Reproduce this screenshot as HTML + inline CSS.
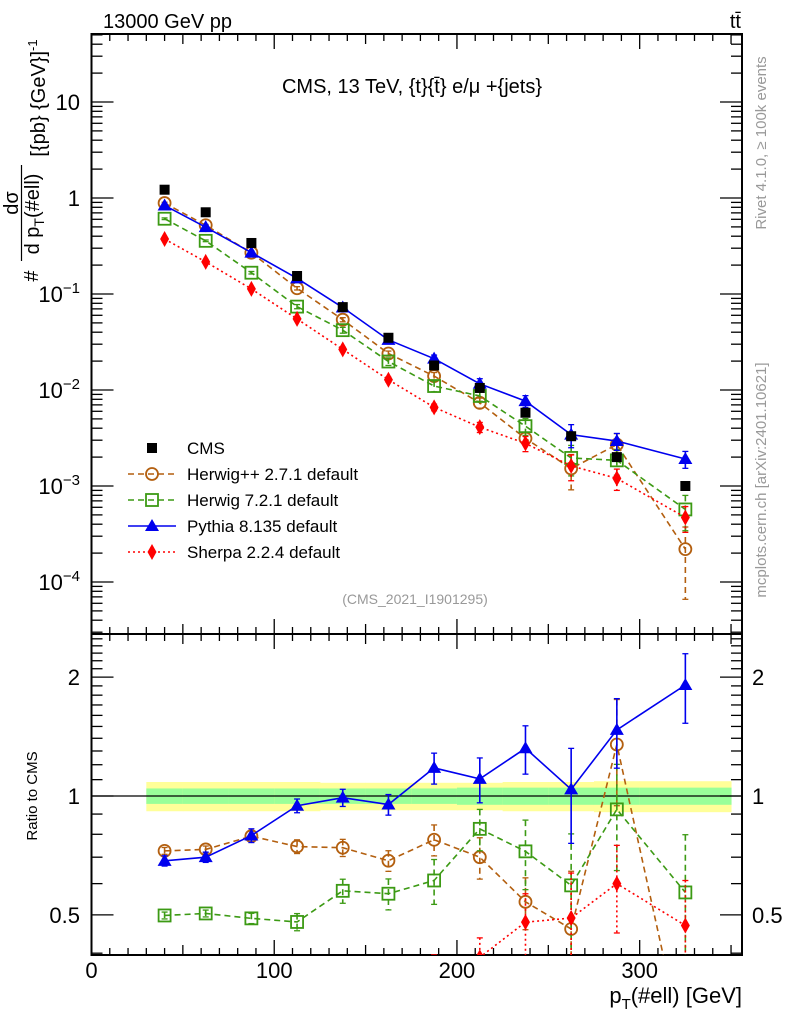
<!DOCTYPE html>
<html><head><meta charset="utf-8"><style>
html,body{margin:0;padding:0;background:#fff;overflow:hidden;width:786px;height:1024px;}
svg{display:block;font-family:"Liberation Sans",sans-serif;}
</style></head><body>
<svg id="chart" width="786" height="1024" viewBox="0 0 786 1024" xmlns="http://www.w3.org/2000/svg" overflow="hidden">
<defs>
<clipPath id="clipMain"><rect x="91.5" y="34" width="650.5" height="600"/></clipPath>
<clipPath id="clipRat"><rect x="91.5" y="634" width="650.5" height="321"/></clipPath>
</defs>
<text x="103" y="28" font-size="20">13000 GeV pp</text>
<text x="741" y="28" font-size="20" text-anchor="end">tt̄</text>
<text x="412" y="93" font-size="20" text-anchor="middle">CMS, 13 TeV, {t}{t̄} e/μ +{jets}</text>
<text x="415" y="604" font-size="14" fill="#999" text-anchor="middle">(CMS_2021_I1901295)</text>
<text transform="translate(766,143) rotate(-90)" font-size="15" fill="#999" text-anchor="middle">Rivet 4.1.0, ≥ 100k events</text>
<text transform="translate(766,480) rotate(-90)" font-size="15" fill="#999" text-anchor="middle">mcplots.cern.ch [arXiv:2401.10621]</text>
<g>
<text transform="translate(38,276) rotate(-90)" font-size="20" text-anchor="middle">#</text>
<text transform="translate(18,203) rotate(-90)" font-size="20" text-anchor="middle">dσ</text>
<line x1="21.5" y1="165" x2="21.5" y2="261" stroke="#000" stroke-width="1.2"/>
<text transform="translate(39,214) rotate(-90)" font-size="20" text-anchor="middle">d p<tspan font-size="14" dy="5">T</tspan><tspan dy="-5">(#ell)</tspan></text>
<text transform="translate(45,98) rotate(-90)" font-size="20" text-anchor="middle">[{pb} {GeV}]<tspan font-size="13" dy="-8">-1</tspan></text>
</g>
<text transform="translate(37,796) rotate(-90)" font-size="15" text-anchor="middle">Ratio to CMS</text>
<text x="742" y="1003" font-size="22" text-anchor="end">p<tspan font-size="15" dy="6">T</tspan><tspan dy="-6">(#ell) [GeV]</tspan></text>
<g id="bands" clip-path="url(#clipRat)"></g>
<g id="axes"></g>
<g id="mainMarks" clip-path="url(#clipMain)"></g>
<g id="ratMarks" clip-path="url(#clipRat)"></g>
<g id="legend"></g>
</svg>
<script>
const binEdges = [30,50,75,100,125,150,175,200,225,250,275,300,350];
const binCenters = [40,62.5,87.5,112.5,137.5,162.5,187.5,212.5,237.5,262.5,287.5,325];
const cmsValues = [1.22,0.71,0.34,0.154,0.073,0.035,0.018,0.0105,0.0058,0.0033,0.0020,0.00100];
const cmsStatRel = [0.045,0.045,0.045,0.045,0.045,0.045,0.045,0.05,0.05,0.05,0.05,0.05];
const cmsTotRel = [0.085,0.085,0.085,0.085,0.08,0.08,0.08,0.08,0.085,0.085,0.09,0.09];
const herwigppValues = [0.886,0.520,0.269,0.1147,0.054,0.024,0.01395,0.00735,0.00313,0.00152,0.0027,0.00022];
const herwigppErr = [0.02,0.02,0.03,0.04,0.05,0.06,0.09,0.12,0.15,0.4,0.3,0.7];
const herwig7Values = [0.608,0.358,0.1666,0.0739,0.042,0.0198,0.011,0.00867,0.0042,0.00196,0.00185,0.00057];
const herwig7Err = [0.02,0.02,0.03,0.05,0.07,0.09,0.13,0.12,0.2,0.35,0.3,0.4];
const pythiaValues = [0.836,0.497,0.270,0.1455,0.0723,0.0333,0.0212,0.0116,0.00766,0.00343,0.00294,0.00191];
const pythiaErr = [0.03,0.03,0.04,0.04,0.05,0.06,0.09,0.13,0.14,0.27,0.2,0.2];
const sherpaValues = [0.374,0.216,0.113,0.055,0.0265,0.0128,0.0066,0.0041,0.00278,0.00162,0.0012,0.00047];
const sherpaErr = [0.02,0.02,0.03,0.04,0.05,0.06,0.08,0.12,0.18,0.3,0.25,0.3];
const xTicks = [0,100,200,300];
const mainTickExps = [1,0,-1,-2,-3,-4];
const ratioTicks = [0.5,1,2];

const NS="http://www.w3.org/2000/svg";
const L=91.5,R=742,MT=34,MB=634,RT=634,RB=955;
const XMAX=356;
function X(v){return L+(R-L)*v/XMAX;}
function YM(v){return 198-96*Math.log10(v);}
function YR(r){return 796-395*Math.log10(r);}
function clampY(y,t,b){return Math.max(t-20,Math.min(b+20,y));}
function mk(tag,attrs,parent){const e=document.createElementNS(NS,tag);for(const k in attrs)e.setAttribute(k,attrs[k]);parent.appendChild(e);return e;}
const axes=document.getElementById('axes');
const mainG=document.getElementById('mainMarks');
const ratG=document.getElementById('ratMarks');
const bandG=document.getElementById('bands');
const legG=document.getElementById('legend');

for(let i=0;i<binCenters.length;i++){
  const x0=X(binEdges[i]),x1=X(binEdges[i+1]);
  const y=mk('rect',{x:x0,y:YR(1+cmsTotRel[i]),width:x1-x0+0.5,height:YR(1-cmsTotRel[i])-YR(1+cmsTotRel[i]),fill:'#ffff99'},bandG);
  
  
  const g=mk('rect',{x:x0,y:YR(1+cmsStatRel[i]),width:x1-x0+0.5,height:YR(1-cmsStatRel[i])-YR(1+cmsStatRel[i]),fill:'#99ff99'},bandG);
  
  
}
const one=mk('line',{x1:L,x2:R,y1:YR(1),y2:YR(1),stroke:'#000','stroke-width':1.3},ratG);



for(const [t,b] of [[MT,MB],[RT,RB]]){
  const f=mk('rect',{x:L,y:t,width:R-L,height:b-t,fill:'none',stroke:'#000','stroke-width':2},axes);
  
  
  for(let v=0;v<=350;v+=10){
    const len=(v%100===0)?15:((v%50===0)?10:7);
    mk('line',{x1:X(v),x2:X(v),y1:b,y2:b-len,stroke:'#000','stroke-width':1.3},axes);
    mk('line',{x1:X(v),x2:X(v),y1:t,y2:t+len,stroke:'#000','stroke-width':1.3},axes);
  }
}
for(let e=-5;e<=1;e++){
  for(let m=1;m<10;m++){
    const y=YM(m*Math.pow(10,e));
    if(y<MT||y>MB)continue;
    const len=m===1?22:11;
    mk('line',{x1:L,x2:L+len,y1:y,y2:y,stroke:'#000','stroke-width':1.3},axes);
    mk('line',{x1:R,x2:R-len,y1:y,y2:y,stroke:'#000','stroke-width':1.3},axes);
  }
}
for(const e of mainTickExps){
  const t=mk('text',{x:80,y:YM(Math.pow(10,e))+8,'font-size':22,'text-anchor':'end'},axes);
  
  
  if(e===1)t.textContent='10';else if(e===0)t.textContent='1';
  else{t.textContent='10';const s=mk('tspan',{dy:-9,'font-size':15},t);s.textContent='−'+(-e);}
}
for(let r=0.4;r<=2.6;r+=0.1){
  const rr=Math.round(r*10)/10;const y=YR(rr);
  if(y<RT||y>RB)continue;
  const len=(rr===0.5||rr===1||rr===2)?22:11;
  mk('line',{x1:L,x2:L+len,y1:y,y2:y,stroke:'#000','stroke-width':1.3},axes);
  mk('line',{x1:R,x2:R-len,y1:y,y2:y,stroke:'#000','stroke-width':1.3},axes);
}
for(const r of ratioTicks){
  const a=mk('text',{x:80,y:YR(r)+8,'font-size':22,'text-anchor':'end'},axes);a.textContent=String(r);
  
  
  const b=mk('text',{x:752,y:YR(r)+8,'font-size':22},axes);b.textContent=String(r);
  
  
}
for(const v of xTicks){
  const t=mk('text',{x:X(v),y:978,'font-size':22,'text-anchor':'middle'},axes);t.textContent=String(v);
  
  
}

function marker(type,color,x,y,parent){
  let e;
  if(type==='square')e=mk('rect',{x:x-5,y:y-5,width:10,height:10,fill:color},parent);
  else if(type==='osquare')e=mk('rect',{x:x-6,y:y-6,width:12,height:12,fill:'none',stroke:color,'stroke-width':1.8},parent);
  else if(type==='circle')e=mk('circle',{cx:x,cy:y,r:6,fill:'none',stroke:color,'stroke-width':1.8},parent);
  else if(type==='tri')e=mk('polygon',{points:`${x},${y-7} ${x-7},${y+5} ${x+7},${y+5}`,fill:color},parent);
  else e=mk('polygon',{points:`${x},${y-8} ${x-4.5},${y} ${x},${y+8} ${x+4.5},${y}`,fill:color},parent);
  return e;
}
const series=[
  {name:'herwigpp',vals:herwigppValues,err:herwigppErr,color:'#b35f0f',dash:'6,4',m:'circle',label:'Herwig++ 2.7.1 default'},
  {name:'herwig7',vals:herwig7Values,err:herwig7Err,color:'#3c9a14',dash:'6,4',m:'osquare',label:'Herwig 7.2.1 default'},
  {name:'pythia',vals:pythiaValues,err:pythiaErr,color:'#0000ee',dash:'',m:'tri',label:'Pythia 8.135 default'},
  {name:'sherpa',vals:sherpaValues,err:sherpaErr,color:'#ff0000',dash:'2,3',m:'diamond',label:'Sherpa 2.2.4 default'}
];
for(const s of series){
  for(const g of [mainG,ratG]){
    const isMain=g===mainG;
    const fn=isMain?YM:YR;
    const t=isMain?MT:RT,b=isMain?MB:RB;
    const val=(i)=>isMain?s.vals[i]:s.vals[i]/cmsValues[i];
    const pts=binCenters.map((c,i)=>X(c)+','+fn(val(i))).join(' ');
    const pl=mk('polyline',{points:pts,fill:'none',stroke:s.color,'stroke-width':1.6,'stroke-dasharray':s.dash},g);
    
    
    binCenters.forEach((c,i)=>{
      const v=val(i);
      const y1=clampY(fn(v*(1+s.err[i])),t,b),y2=clampY(fn(Math.max(v*(1-s.err[i]),1e-9)),t,b);
      const eb=mk('line',{x1:X(c),x2:X(c),y1:y1,y2:y2,stroke:s.color,'stroke-width':1.6,'stroke-dasharray':s.dash},g);
      
      
      mk('line',{x1:X(c)-3,x2:X(c)+3,y1:y1,y2:y1,stroke:s.color,'stroke-width':1.3},g);
      mk('line',{x1:X(c)-3,x2:X(c)+3,y1:y2,y2:y2,stroke:s.color,'stroke-width':1.3},g);
      const m=marker(s.m,s.color,X(c),fn(v),g);
      
      
    });
  }
}
binCenters.forEach((c,i)=>{
  const m=marker('square','#000',X(c),YM(cmsValues[i]),mainG);
  
  
});
const rows=[{m:'square',color:'#000',dash:null,label:'CMS'}].concat(series.map(s=>({m:s.m,color:s.color,dash:s.dash,label:s.label})));
rows.forEach((r,k)=>{
  const y=448+k*26;
  const g=mk('g',{},legG);
  
  
  if(r.dash!==null)mk('line',{x1:128,x2:176,y1:y,y2:y,stroke:r.color,'stroke-width':1.6,'stroke-dasharray':r.dash},g);
  marker(r.m,r.color,152,y,g);
  const t=mk('text',{x:187,y:y+6,'font-size':17},g);t.textContent=r.label;
});
</script>
</body></html>
